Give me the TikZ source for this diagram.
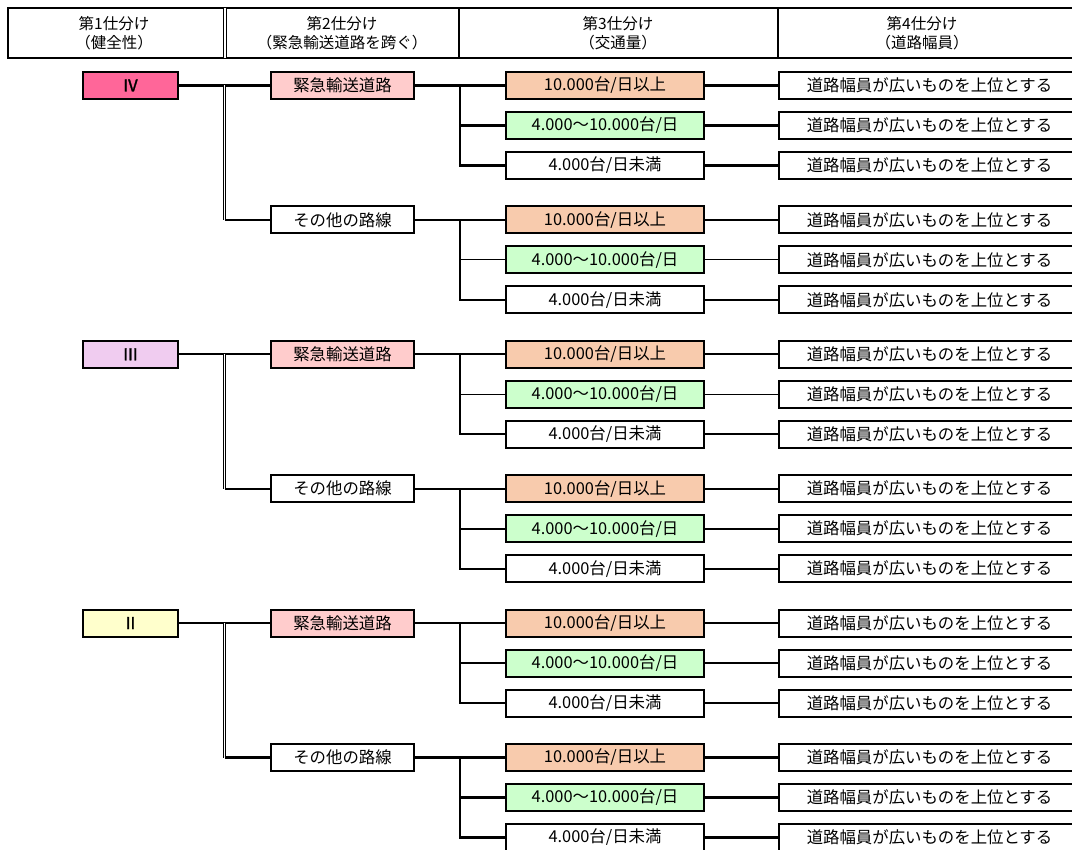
\documentclass[tikz,border=0pt]{standalone}
\usepackage{fontspec}
\setmainfont{Noto Sans CJK JP}
\usetikzlibrary{calc}
\definecolor{cIV}{HTML}{FF6699}
\definecolor{cIII}{HTML}{F0CCF0}
\definecolor{cII}{HTML}{FFFFCC}
\definecolor{cEm}{HTML}{FFCCCC}
\definecolor{cHi}{HTML}{F8CBAD}
\definecolor{cMid}{HTML}{CCFFCC}
\begin{document}
\begin{tikzpicture}[x=1pt,y=-1pt,
  box/.style={draw=black, line width=2pt, minimum height=27pt, inner sep=0pt,
    font=\fontsize{16.4}{18}\selectfont},
  lone/.style={box, minimum width=95pt, font=\fontsize{16.4}{18}\selectfont\addfontfeature{FakeBold=1.5}},
  ltwo/.style={box, minimum width=143pt},
  lthree/.style={box, minimum width=198pt},
  lfour/.style={box, minimum width=301pt},
  conn/.style={line width=2.4pt},
  thinconn/.style={line width=1pt},
  dbl/.style={double, line width=0.9pt, double distance=1.4pt},
  hdr/.style={font=\fontsize{15.5}{19}\selectfont, align=center, inner sep=0pt}]
\useasboundingbox (0,0) rectangle (1072,850);
% header
\draw[line width=2.4pt] (8,8) rectangle (1095,58);
\draw[dbl] (225,8) -- (225,58);
\draw[line width=1.6pt] (459,8) -- (459,58);
\draw[line width=1.6pt] (778,8) -- (778,58);
\node[hdr] (h1) at (114,33) {第1仕分け\\（健全性）};
\node[hdr] (h2) at (342,33) {第2仕分け\\（緊急輸送道路を跨ぐ）};
\node[hdr] (h3) at (618,33) {第3仕分け\\（交通量）};
\node[hdr] (h4) at (922,33) {第4仕分け\\（道路幅員）};
% groups
\foreach \lab/\col/\sa/\sb [count=\gi from 0] in {Ⅳ/cIV/conn/thinconn, Ⅲ/cIII/thinconn/conn, Ⅱ/cII/conn/conn} {
  \pgfmathsetmacro\ya{85.5+268.8*\gi}
  \pgfmathsetmacro\yb{\ya+134.4}
  \node[lone, fill=\col] (g\gi) at (130.5,\ya) {\lab};
  \node[ltwo, fill=cEm] (g\gi a) at (342.5,\ya) {緊急輸送道路};
  \node[ltwo, fill=white] (g\gi b) at (342.5,\yb) {その他の路線};
  \draw[conn] (g\gi) -- (g\gi a);
  \coordinate (v\gi) at ($(g\gi.east)!.5!(g\gi a.west)$);
  \draw[dbl] (v\gi) -- (v\gi |- g\gi b.west);
  \draw[conn] (v\gi |- g\gi b.west) -- (g\gi b.west);
  \foreach \s/\ys/\st in {a/\ya/\sa, b/\yb/\sb} {
    \node[lthree, fill=cHi] (g\gi\s1) at (605,\ys) {10.000台/日以上};
    \node[lthree, fill=cMid] (g\gi\s2) at (605,\ys+40) {4.000～10.000台/日};
    \node[lthree, fill=white] (g\gi\s3) at (605,\ys+80) {4.000台/日未満};
    \node[lfour, fill=white] (t\gi\s1) at (929.5,\ys) {道路幅員が広いものを上位とする};
    \node[lfour, fill=white] (t\gi\s2) at (929.5,\ys+40) {道路幅員が広いものを上位とする};
    \node[lfour, fill=white] (t\gi\s3) at (929.5,\ys+80) {道路幅員が広いものを上位とする};
    \coordinate (w\gi\s) at ($(g\gi\s.east)!.5!(g\gi\s1.west)$);
    \draw[conn] (g\gi\s) -- (g\gi\s1);
    \draw[conn] (w\gi\s) -- (w\gi\s |- g\gi\s3.west) -- (g\gi\s3.west);
    \draw[\st] (w\gi\s |- g\gi\s2.west) -- (g\gi\s2.west);
    \draw[conn] (g\gi\s1) -- (t\gi\s1);
    \draw[\st] (g\gi\s2) -- (t\gi\s2);
    \draw[conn] (g\gi\s3) -- (t\gi\s3);
  }
}
\end{tikzpicture}
\end{document}
